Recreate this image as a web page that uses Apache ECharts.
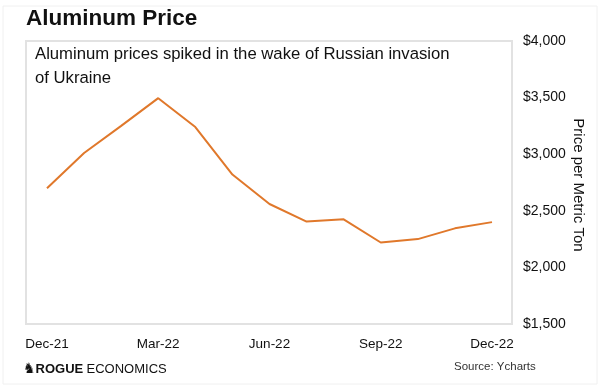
<!DOCTYPE html>
<html><head><meta charset="utf-8">
<script src="https://cdn.jsdelivr.net/npm/echarts@6/dist/echarts.min.js"></script>
<style>html,body{margin:0;padding:0;background:#fff}#c{width:600px;height:387px}</style>
</head><body><div id="c"></div>
<script>
const categories = ['Dec-21','Jan-22','Feb-22','Mar-22','Apr-22','May-22','Jun-22','Jul-22','Aug-22','Sep-22','Oct-22','Nov-22','Dec-22'];
const prices = [2700, 3010, 3250, 3495, 3240, 2820, 2560, 2405, 2425, 2220, 2250, 2345, 2400];
const tickLabels = ['Dec-21','Mar-22','Jun-22','Sep-22','Dec-22'];
const yMin = 1500, yMax = 4000, yStep = 500;
const yAxisName = 'Price per Metric Ton';

const chart = echarts.init(document.getElementById('c'), null, {renderer:'canvas'});
const font = '"Liberation Sans", Arial, sans-serif';
chart.setOption({
  animation:false,
  backgroundColor:'#fff',
  grid:{left:47, right:108, top:41, bottom:63},
  xAxis:{type:'category', data:categories, boundaryGap:false,
    axisLine:{show:false}, axisTick:{show:false}, splitLine:{show:false},
    axisLabel:{interval:(i,v)=>tickLabels.includes(v), color:'#111', fontFamily:font, fontSize:13.5, margin:13}},
  yAxis:{type:'value', position:'right', min:yMin, max:yMax, interval:yStep,
    axisLine:{show:false}, axisTick:{show:false}, splitLine:{show:false},
    axisLabel:{color:'#111', fontFamily:font, fontSize:14, margin:31, align:'left',
      formatter:v=>'$'+v.toLocaleString('en-US')}},
  series:[{type:'line', data:prices, symbol:'none', lineStyle:{color:'#E0782B', width:2}, itemStyle:{color:'#E0782B'}}],
  graphic:[
    {type:'rect', shape:{x:3,y:6,width:594,height:378}, style:{fill:'none', stroke:'#f0f0f0', lineWidth:1}, silent:true},
    {type:'rect', shape:{x:26,y:41,width:486,height:283}, style:{fill:'none', stroke:'#e2e2e2', lineWidth:2}, silent:true, z:-1},
    {type:'text', x:578, y:185, rotation:-Math.PI/2, style:{text:yAxisName, font:'15px '+font, fill:'#111', align:'center', verticalAlign:'middle'}},
    {type:'text', left:26, top:7, style:{text:'Aluminum Price', font:'bold 22.5px '+font, fill:'#111'}},
    {type:'text', left:35, top:42, style:{text:'Aluminum prices spiked in the wake of Russian invasion\nof Ukraine', font:'16.7px '+font, lineHeight:24, fill:'#111'}},
    {type:'text', left:23, top:362, style:{text:'{i|♞}{b|ROGUE} {r|ECONOMICS}', rich:{
      i:{font:'bold 14px "DejaVu Sans"', fill:'#111'},
      b:{font:'bold 13px '+font, fill:'#111'},
      r:{font:'13px '+font, fill:'#111'}}}},
    {type:'text', left:454, top:361, style:{text:'Source: Ycharts', font:'11.5px '+font, fill:'#333'}}
  ]
});
</script></body></html>
